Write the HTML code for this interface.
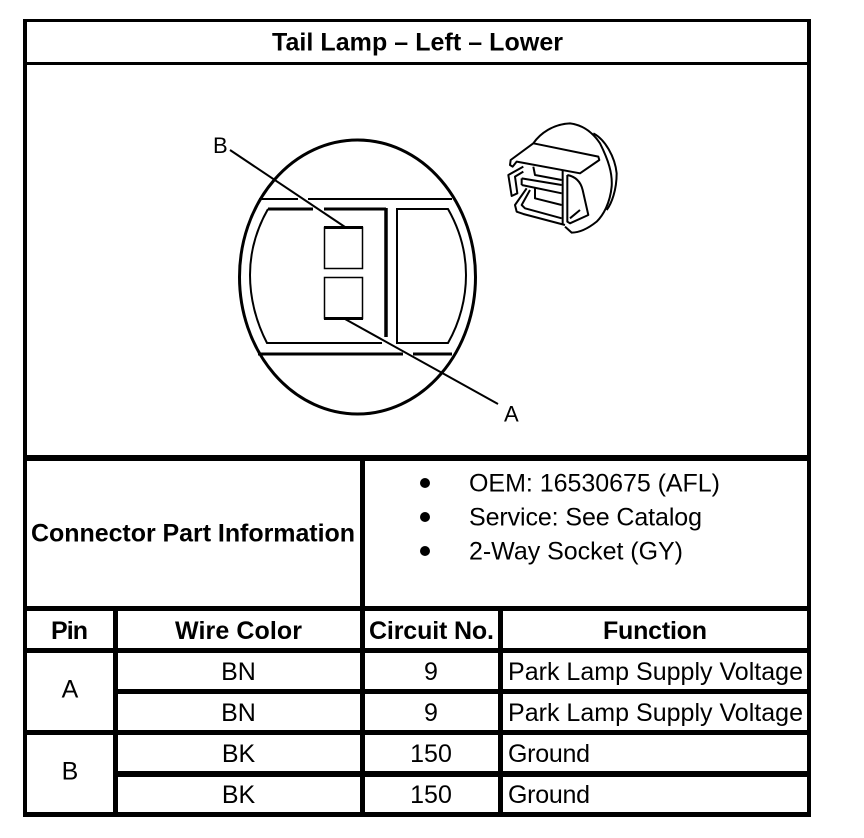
<!DOCTYPE html>
<html>
<head>
<meta charset="utf-8">
<style>
html,body{margin:0;padding:0;background:#fff;}
svg{display:block;}
text{font-family:"Liberation Sans",sans-serif;fill:#000;}
.h{font-weight:bold;font-size:25px;}
.t{font-size:25px;}
.l{font-size:22px;}
</style>
</head>
<body>
<svg width="864" height="838" viewBox="0 0 864 838" xmlns="http://www.w3.org/2000/svg">
<rect width="864" height="838" fill="#fff"/>
<!-- table rules -->
<g fill="#000">
<rect x="23" y="19" width="788" height="3"/>
<rect x="23" y="62" width="788" height="3"/>
<rect x="23" y="455" width="788" height="6"/>
<rect x="23" y="606" width="788" height="5"/>
<rect x="23" y="648" width="788" height="5"/>
<rect x="117" y="689" width="694" height="5"/>
<rect x="23" y="730" width="788" height="5"/>
<rect x="117" y="771" width="694" height="6"/>
<rect x="23" y="812" width="788" height="5"/>
<rect x="23" y="19" width="4" height="798"/>
<rect x="807" y="19" width="4" height="798"/>
<rect x="360" y="455" width="5" height="362"/>
<rect x="113" y="606" width="5" height="211"/>
<rect x="498" y="606" width="5" height="211"/>
</g>
<!-- magnified view -->
<g fill="none" stroke="#000">
<ellipse cx="357.500" cy="277" rx="118" ry="137" stroke-width="3"/>
<path d="M259 199H298M308 199H452" stroke-width="2"/>
<path d="M258 354H403M413 354H452" stroke-width="3"/>
<path d="M268 209C256 230 250 252 250 275C250 298 256 322 267 343H382" stroke-width="2"/>
<path d="M268 209H313M324 209H386" stroke-width="3"/>
<path d="M386 208V337" stroke-width="3.500"/>
<path d="M397 209H448C460 230 466 252 466 275C466 298 460 322 448 343H397Z" stroke-width="2"/>
<rect x="324.500" y="227.500" width="38" height="41" stroke-width="1.500"/>
<rect x="324.500" y="277.500" width="38" height="41" stroke-width="1.500"/>
<path d="M324 227.500H363M324 318.500H363" stroke-width="3"/>
<path d="M230 150L345 227" stroke-width="2"/>
<path d="M345 319L498 404" stroke-width="2"/>
</g>
<!-- connector icon -->
<g transform="translate(490 110) scale(.3333)" fill="none" stroke="#000" stroke-width="6" stroke-linejoin="round">
<path d="M130 100C150 70 190 42 240 40C280 45 310 70 330 100C355 150 368 190 365 230C360 280 340 315 320 335C295 355 270 368 245 368L225 350"/>
<path d="M310 70C345 88 375 140 380 190C380 240 365 280 350 300"/>
<path d="M62 150L130 100L325 140L328 150L270 190L80 155L68 170L60 165Z"/>
<path d="M100 170L55 195L65 258L82 250L75 200L100 185"/>
<path d="M95 205L215 225M95 225L215 250M95 205V225"/>
<path d="M130 170L135 195L215 210"/>
<path d="M110 235L75 285L80 305L100 312L225 345"/>
<path d="M120 240L95 285L105 295L215 325"/>
<path d="M135 235V265L215 285"/>
<path d="M218 180V345"/>
<path d="M232 195C258 200 272 215 278 240L295 315L240 340L232 335V195"/>
<path d="M240 325L270 300"/>
</g>
<text class="l" x="213" y="153">B</text>
<text class="l" x="504" y="421.500">A</text>
<!-- text -->
<text class="h" x="272" y="50.500" textLength="291" lengthAdjust="spacing">Tail Lamp – Left – Lower</text>
<text class="h" x="31" y="541.500" textLength="324" lengthAdjust="spacing">Connector Part Information</text>
<circle cx="425" cy="483" r="5"/>
<circle cx="425" cy="517" r="5"/>
<circle cx="425" cy="551" r="5"/>
<text class="t" x="469" y="491.500" textLength="251" lengthAdjust="spacing">OEM: 16530675 (AFL)</text>
<text class="t" x="469" y="525.500" textLength="233" lengthAdjust="spacing">Service: See Catalog</text>
<text class="t" x="469" y="559.500" textLength="214" lengthAdjust="spacing">2-Way Socket (GY)</text>
<text class="h" x="51" y="639" textLength="37" lengthAdjust="spacing">Pin</text>
<text class="h" x="175" y="639" textLength="127" lengthAdjust="spacing">Wire Color</text>
<text class="h" x="369" y="639" textLength="125" lengthAdjust="spacing">Circuit No.</text>
<text class="h" x="603" y="639" textLength="104" lengthAdjust="spacing">Function</text>
<text class="t" x="70" y="697.500" text-anchor="middle">A</text>
<text class="t" x="70" y="779.500" text-anchor="middle">B</text>
<text class="t" x="238.500" y="680" text-anchor="middle">BN</text>
<text class="t" x="238.500" y="721" text-anchor="middle">BN</text>
<text class="t" x="238.500" y="762" text-anchor="middle">BK</text>
<text class="t" x="238.500" y="803" text-anchor="middle">BK</text>
<text class="t" x="431" y="680" text-anchor="middle">9</text>
<text class="t" x="431" y="721" text-anchor="middle">9</text>
<text class="t" x="431" y="762" text-anchor="middle">150</text>
<text class="t" x="431" y="803" text-anchor="middle">150</text>
<text class="t" x="508" y="680" textLength="295" lengthAdjust="spacing">Park Lamp Supply Voltage</text>
<text class="t" x="508" y="721" textLength="295" lengthAdjust="spacing">Park Lamp Supply Voltage</text>
<text class="t" x="508" y="762" textLength="82" lengthAdjust="spacing">Ground</text>
<text class="t" x="508" y="803" textLength="82" lengthAdjust="spacing">Ground</text>
</svg>
</body>
</html>
